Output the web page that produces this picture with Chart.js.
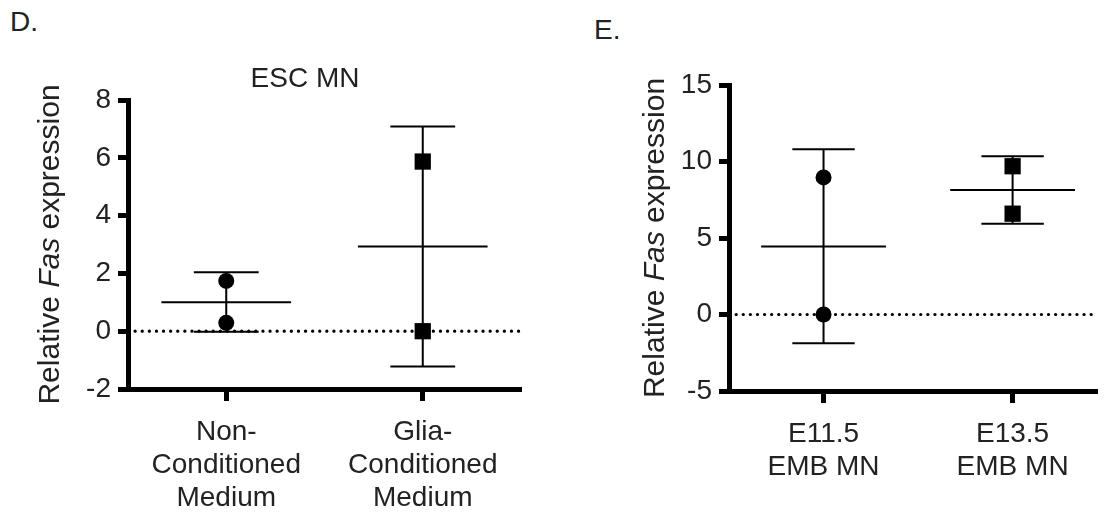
<!DOCTYPE html>
<html>
<head>
<meta charset="utf-8">
<script src="https://cdn.jsdelivr.net/npm/chart.js@4.4.1/dist/chart.umd.min.js"></script>
<style>
  html, body { margin: 0; padding: 0; background: #fff; }
  #wrap { position: relative; width: 1109px; height: 515px; overflow: hidden; }
  canvas { position: absolute; top: 0; }
  #chartD { left: 0; }
  #chartE { left: 624px; }
  .panel {
    position: absolute;
    font-family: 'Liberation Sans', Arial, sans-serif;
    font-size: 28px;
    line-height: 28px;
    color: #222;
  }
</style>
</head>
<body>
<div id="wrap">
  <div class="panel" style="left:10px; top:8px;">D.</div>
  <div class="panel" style="left:594px; top:16px;">E.</div>
  <canvas id="chartD" width="624" height="515"></canvas>
  <canvas id="chartE" width="485" height="515"></canvas>
</div>

<script>
// ---------------- data: panel D (ESC MN) ----------------
const dCategories = [["Non-", "Conditioned", "Medium"], ["Glia-", "Conditioned", "Medium"]];
const dCircles    = [1.74, 0.29];      // Non-Conditioned replicates
const dSquares    = [5.87, 0.0];       // Glia-Conditioned replicates
const dMeans      = [1.0, 2.93];
const dErrHigh    = [2.04, 7.08];
const dErrLow     = [-0.02, -1.22];
const dYTicks     = [-2, 0, 2, 4, 6, 8];

// ---------------- data: panel E (EMB MN) ----------------
const eCategories = [["E11.5", "EMB MN"], ["E13.5", "EMB MN"]];
const eCircles    = [8.96, 0.0];       // E11.5 replicates
const eSquares    = [9.69, 6.59];      // E13.5 replicates
const eMeans      = [4.45, 8.14];
const eErrHigh    = [10.8, 10.35];
const eErrLow     = [-1.88, 5.93];
const eYTicks     = [-5, 0, 5, 10, 15];

const yTitleParts = [["Relative ", "normal"], ["Fas", "italic"], [" expression", "normal"]];

// ---------------- style ----------------
const FONT = "'Liberation Sans', Arial, sans-serif";
const TEXT = "#222";
const MEAN_HALF = 0.33;   // half width of mean line, in category units
const CAP_HALF  = 0.165;  // half width of error caps

/** mean line + SD whiskers as one broken line */
function whiskerData(means, hi, lo) {
  const pts = [];
  means.forEach((m, i) => {
    pts.push({ x: i - MEAN_HALF, y: m }, { x: i + MEAN_HALF, y: m }, { x: i, y: null });
    pts.push({ x: i, y: lo[i] }, { x: i, y: hi[i] }, { x: i, y: null });
    pts.push({ x: i - CAP_HALF, y: hi[i] }, { x: i + CAP_HALF, y: hi[i] }, { x: i, y: null });
    pts.push({ x: i - CAP_HALF, y: lo[i] }, { x: i + CAP_HALF, y: lo[i] }, { x: i, y: null });
  });
  return pts;
}

// rotated y title (italic gene name) + panel title
const labelsPlugin = {
  id: "panelLabels",
  afterDraw(chart, args, opts) {
    const { ctx, chartArea } = chart;
    ctx.save();
    ctx.fillStyle = TEXT;
    ctx.textBaseline = "middle";

    if (opts.title) {
      ctx.textAlign = "center";
      ctx.font = `28px ${FONT}`;
      ctx.fillText(opts.title, opts.titleX, opts.titleY);
    }

    ctx.textAlign = "left";
    const widths = yTitleParts.map(([t, st]) => {
      ctx.font = `${st} 30px ${FONT}`;
      return ctx.measureText(t).width;
    });
    const total = widths.reduce((a, b) => a + b, 0);
    ctx.translate(opts.x, (chartArea.top + chartArea.bottom) / 2);
    ctx.rotate(-Math.PI / 2);
    let x = -total / 2;
    yTitleParts.forEach(([t, st], i) => {
      ctx.font = `${st} 30px ${FONT}`;
      ctx.fillText(t, x, 0);
      x += widths[i];
    });
    ctx.restore();
  }
};

function makeChart(id, o) {
  const ctx = document.getElementById(id).getContext("2d");
  return new Chart(ctx, {
    type: "line",
    data: {
      datasets: [
        {
          data: o.circles.map(v => ({ x: 0, y: v })),
          showLine: false,
          pointStyle: "circle",
          pointRadius: 8,
          pointBackgroundColor: "#000",
          pointBorderWidth: 0,
          order: 0,
          clip: false
        },
        {
          data: o.squares.map(v => ({ x: 1, y: v })),
          showLine: false,
          pointStyle: "rect",
          pointRadius: 11.5,
          pointBackgroundColor: "#000",
          pointBorderWidth: 0,
          order: 0,
          clip: false
        },
        {
          data: whiskerData(o.means, o.hi, o.lo),
          borderColor: "#000",
          borderWidth: 2,
          pointRadius: 0,
          spanGaps: false,
          tension: 0,
          order: 1
        },
        {
          data: [{ x: o.xMin, y: 0 }, { x: o.xMax, y: 0 }],
          borderColor: "#000",
          borderWidth: 3.2,
          borderDash: [0.1, 7],
          borderCapStyle: "round",
          pointRadius: 0,
          order: 2
        }
      ]
    },
    options: {
      responsive: false,
      animation: false,
      devicePixelRatio: 1,
      layout: { padding: o.padding },
      plugins: {
        legend: { display: false },
        tooltip: { enabled: false },
        title: { display: false },
        panelLabels: { x: o.yTitleX, title: o.title, titleX: o.titleX, titleY: 79 }
      },
      scales: {
        x: {
          type: "linear",
          min: o.xMin,
          max: o.xMax,
          afterBuildTicks: s => { s.ticks = o.cats.map((c, i) => ({ value: i })); },
          afterFit: s => { s.height = o.xHeight; },
          border: { color: "#000", width: 5 },
          grid: { drawOnChartArea: false, drawTicks: true, tickLength: 12, tickWidth: 5, tickColor: "#000" },
          ticks: {
            callback: v => o.cats[v],
            color: TEXT,
            font: { family: FONT, size: 28, lineHeight: 1.18 },
            padding: 15,
            maxRotation: 0,
            autoSkip: false
          }
        },
        y: {
          min: o.yTicks[0],
          max: o.yTicks[o.yTicks.length - 1],
          afterBuildTicks: s => { s.ticks = o.yTicks.map(v => ({ value: v })); },
          afterFit: s => { s.width = o.yWidth; },
          border: { color: "#000", width: 5 },
          grid: { drawOnChartArea: false, drawTicks: true, tickLength: 10, tickWidth: 5, tickColor: "#000" },
          ticks: {
            color: TEXT,
            font: { family: FONT, size: 28 },
            padding: 7
          }
        }
      }
    },
    plugins: [labelsPlugin]
  });
}

document.addEventListener("DOMContentLoaded", () => {
  makeChart("chartD", {
    cats: dCategories, circles: dCircles, squares: dSquares,
    means: dMeans, hi: dErrHigh, lo: dErrLow, yTicks: dYTicks,
    title: "ESC MN", titleX: 305, xMin: -0.5, xMax: 1.5,
    padding: { top: 100, right: 103, left: 0, bottom: 0 },
    yWidth: 128, xHeight: 126, yTitleX: 51
  });
  makeChart("chartE", {
    cats: eCategories, circles: eCircles, squares: eSquares,
    means: eMeans, hi: eErrHigh, lo: eErrLow, yTicks: eYTicks,
    title: "", xMin: -0.5, xMax: 1.449,
    padding: { top: 85, right: 0, left: 0, bottom: 0 },
    yWidth: 105, xHeight: 124, yTitleX: 32
  });
});
</script>
</body>
</html>
